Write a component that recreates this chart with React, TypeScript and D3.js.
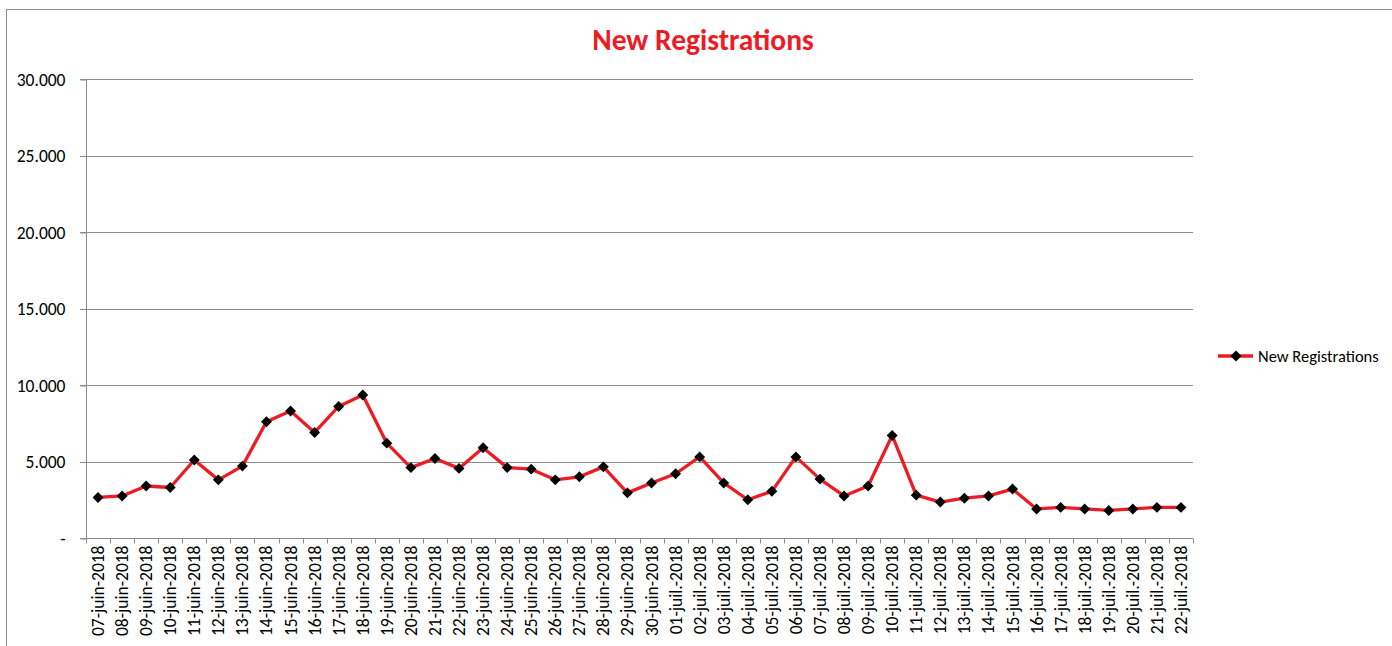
import * as d3 from "d3";
import { useEffect, useRef } from "react";

const dates = [
  "07-juin-2018", "08-juin-2018", "09-juin-2018", "10-juin-2018", "11-juin-2018",
  "12-juin-2018", "13-juin-2018", "14-juin-2018", "15-juin-2018", "16-juin-2018",
  "17-juin-2018", "18-juin-2018", "19-juin-2018", "20-juin-2018", "21-juin-2018",
  "22-juin-2018", "23-juin-2018", "24-juin-2018", "25-juin-2018", "26-juin-2018",
  "27-juin-2018", "28-juin-2018", "29-juin-2018", "30-juin-2018",
  "01-juil.-2018", "02-juil.-2018", "03-juil.-2018", "04-juil.-2018", "05-juil.-2018",
  "06-juil.-2018", "07-juil.-2018", "08-juil.-2018", "09-juil.-2018", "10-juil.-2018",
  "11-juil.-2018", "12-juil.-2018", "13-juil.-2018", "14-juil.-2018", "15-juil.-2018",
  "16-juil.-2018", "17-juil.-2018", "18-juil.-2018", "19-juil.-2018", "20-juil.-2018",
  "21-juil.-2018", "22-juil.-2018",
];

const registrations = [
  2650, 2750, 3400, 3300, 5100, 3800, 4700, 7600, 8300, 6900,
  8600, 9350, 6200, 4600, 5200, 4550, 5900, 4600, 4500, 3800,
  4000, 4650, 2950, 3600, 4200, 5300, 3600, 2500, 3050, 5300,
  3850, 2750, 3400, 6700, 2800, 2350, 2600, 2750, 3200, 1900,
  2000, 1900, 1800, 1900, 2000, 2000,
];

const yTicks = [0, 5000, 10000, 15000, 20000, 25000, 30000];
const seriesName = "New Registrations";
const chartTitle = "New Registrations";

const FONT = "Carlito, Calibri, 'Open Sans', sans-serif";

export default function App() {
  const ref = useRef<SVGSVGElement>(null);

  useEffect(() => {
    const width = 1392, height = 646;
    const svg = d3.select(ref.current);
    svg.selectAll("*").remove();
    svg.attr("width", width).attr("height", height);

    const left = 86, right = 1193, top = 79, bottom = 538;

    const x = d3.scaleBand().domain(dates).range([left, right]);
    const y = d3.scaleLinear().domain([0, 30000]).range([bottom, top]);

    // outer chart frame
    svg.append("path")
      .attr("d", `M6.5,${height} V9.5 H${width}`)
      .attr("fill", "none")
      .attr("stroke", "#8c8c8c")
      .attr("stroke-width", 1);

    svg.append("text")
      .attr("x", 703)
      .attr("y", 50)
      .attr("text-anchor", "middle")
      .attr("fill", "#ed1c24")
      .attr("font-family", FONT)
      .attr("font-weight", "bold")
      .attr("font-size", 29.5)
      .text(chartTitle);

    // gridlines
    svg.append("g")
      .selectAll("line")
      .data(yTicks.filter(d => d > 0))
      .join("line")
      .attr("x1", left - 6)
      .attr("x2", right)
      .attr("y1", d => Math.round(y(d)) + 0.5)
      .attr("y2", d => Math.round(y(d)) + 0.5)
      .attr("stroke", "#8c8c8c")
      .attr("stroke-width", 1);

    // y axis
    const yAxis = d3.axisLeft(y)
      .tickValues(yTicks)
      .tickSize(6)
      .tickFormat(d => (+d === 0 ? "-" : d3.format(",")(+d).replace(/,/g, ".")));
    const gy = svg.append("g").attr("transform", `translate(${left + 0.5},0.5)`).call(yAxis);
    gy.select(".domain").attr("stroke", "#8c8c8c").attr("d", `M0,${top}V${bottom}`);
    gy.selectAll(".tick line").attr("stroke", "#8c8c8c");
    gy.selectAll(".tick text")
      .attr("x", -21)
      .attr("fill", "#000")
      .attr("font-family", FONT)
      .attr("font-size", 17.5);

    // x axis
    const gx = svg.append("g").attr("transform", `translate(0,${bottom + 0.5})`);
    gx.append("line")
      .attr("x1", left - 6).attr("x2", right)
      .attr("stroke", "#8c8c8c");
    gx.selectAll("line.tk")
      .data(dates.concat(["__end"]))
      .join("line")
      .attr("class", "tk")
      .attr("x1", (d, i) => Math.round(left + i * x.bandwidth()) + 0.5)
      .attr("x2", (d, i) => Math.round(left + i * x.bandwidth()) + 0.5)
      .attr("y1", 0)
      .attr("y2", 5)
      .attr("stroke", "#8c8c8c");
    gx.selectAll("text")
      .data(dates)
      .join("text")
      .attr("transform", d => `translate(${x(d)! + x.bandwidth() / 2 + 6},7) rotate(-90)`)
      .attr("text-anchor", "end")
      .attr("font-family", FONT)
      .attr("font-size", 17.5)
      .attr("fill", "#000")
      .text(d => d);

    const cx = (d: string) => x(d)! + x.bandwidth() / 2;

    const line = d3.line<number>()
      .x((d, i) => cx(dates[i]))
      .y(d => y(d));

    svg.append("path")
      .datum(registrations)
      .attr("d", line)
      .attr("fill", "none")
      .attr("stroke", "#ed1c24")
      .attr("stroke-width", 3.3)
      .attr("stroke-linejoin", "round");

    const diamond = d3.symbol().type(d3.symbolDiamond2).size(76);
    svg.append("g")
      .selectAll("path")
      .data(registrations)
      .join("path")
      .attr("transform", (d, i) => `translate(${cx(dates[i])},${y(d)})`)
      .attr("d", diamond)
      .attr("fill", "#000");

    // legend
    const lg = svg.append("g").attr("transform", "translate(1218,356)");
    lg.append("line").attr("x1", 0).attr("x2", 35).attr("stroke", "#ed1c24").attr("stroke-width", 3.3);
    lg.append("path").attr("transform", "translate(18,0)").attr("d", diamond).attr("fill", "#000");
    lg.append("text")
      .attr("x", 40)
      .attr("y", 5.5)
      .attr("font-family", FONT)
      .attr("font-size", 16.5)
      .attr("fill", "#000")
      .text(seriesName);
  }, []);

  return (
    <svg ref={ref} style={{ position: "absolute", left: 0, top: 0, background: "#fff" }}></svg>
  );
}
